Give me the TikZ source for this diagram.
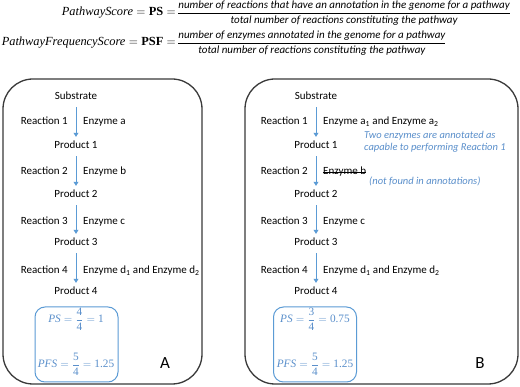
\documentclass[tikz,border=0pt]{standalone}
\usepackage[no-math]{fontspec}
\usepackage{amsmath}
\setmainfont{Carlito}
\newfontfamily\serif{Liberation Serif}
\usetikzlibrary{arrows.meta}
\definecolor{arrblue}{HTML}{5B9BD5}
\definecolor{txtblue}{HTML}{5A8FCB}
\definecolor{boxgray}{HTML}{3A3A3A}
\newcommand{\myfr}[2]{\dfrac{\text{#1}}{\text{#2}}}
\begin{document}
\begin{tikzpicture}[x=1pt,y=-1pt,
  lbl/.style={font=\fontsize{11}{13}\selectfont, inner sep=0pt, text height=8pt, text depth=2pt},
  arr/.style={draw=arrblue, line width=0.8pt, -{Triangle[width=5pt,length=4pt]}, shorten <=5pt, shorten >=4pt},
  outer/.style={draw=boxgray, line width=1.3pt, rounded corners=30pt},
  inner/.style={draw=arrblue, line width=1pt, rounded corners=10pt, minimum width=83pt, minimum height=75pt, inner sep=0pt},
  note/.style={font=\fontsize{10.5}{12}\selectfont\itshape, text=txtblue, inner sep=0pt, align=left},
  frm/.style={font=\fontsize{11.3}{14}\selectfont\serif, text=txtblue, inner sep=0pt},
  letter/.style={font=\fontsize{17}{20}\selectfont, inner sep=0pt}
]
\useasboundingbox[fill=white] (0,0) rectangle (520,387);

% top formulas
\node[inner sep=0pt, anchor=east, font=\fontsize{12.4}{14}\selectfont\serif] (ps) at (176,13) {$\text{\itshape PathwayScore} = \text{\bfseries PS} =$};
\node[inner sep=0pt, anchor=west, font=\fontsize{11}{13}\selectfont\itshape] (psf) at (177,13) {$\myfr{number of reactions that have an annotation in the genome for a pathway}{total number of reactions constituting the pathway}$};
\node[inner sep=0pt, anchor=east, font=\fontsize{12.4}{14}\selectfont\serif] (pfs) at (176,43) {$\text{\itshape PathwayFrequencyScore} = \text{\bfseries PSF} =$};
\node[inner sep=0pt, anchor=west, font=\fontsize{11}{13}\selectfont\itshape] (pfsf) at (177,43) {$\myfr{number of enzymes annotated in the genome for a pathway}{total number of reactions constituting the pathway}$};

% outer boxes
\draw[outer] (3,79) rectangle (202,384);
\draw[outer] (245,79) rectangle (518,384);

% ---- panel A
\node[lbl] (sA) at (76,97) {Substrate};
\node[lbl] (p1A) at (76,146) {Product 1};
\node[lbl] (p2A) at (76,195) {Product 2};
\node[lbl] (p3A) at (76,243) {Product 3};
\node[lbl] (p4A) at (76,292) {Product 4};
\draw[arr] (sA) -- (p1A);
\draw[arr] (p1A) -- (p2A);
\draw[arr] (p2A) -- (p3A);
\draw[arr] (p3A) -- (p4A);
\node[lbl, anchor=east] (r1A) at (68,122) {Reaction 1};
\node[lbl, anchor=east] (r2A) at (68,172) {Reaction 2};
\node[lbl, anchor=east] (r3A) at (68,222) {Reaction 3};
\node[lbl, anchor=east] (r4A) at (68,271) {Reaction 4};
\node[lbl, anchor=west] (e1A) at (83,122) {Enzyme a};
\node[lbl, anchor=west] (e2A) at (83,172) {Enzyme b};
\node[lbl, anchor=west] (e3A) at (83,222) {Enzyme c};
\node[lbl, anchor=west] (e4A) at (83,271) {Enzyme d\textsubscript{1} and Enzyme d\textsubscript{2}};
\node[inner] (bA) at (76.5,344.5) {};
\node[frm] (psA) at (76,319) {$\text{\itshape PS} = \myfr{4}{4} = \text{1}$};
\node[frm] (pfsA) at (76,364) {$\text{\itshape PFS} = \myfr{5}{4} = \text{1.25}$};
\node[letter] (A) at (165,363) {A};

% ---- panel B
\node[lbl] (sB) at (316,97) {Substrate};
\node[lbl] (p1B) at (316,146) {Product 1};
\node[lbl] (p2B) at (316,195) {Product 2};
\node[lbl] (p3B) at (316,243) {Product 3};
\node[lbl] (p4B) at (316,292) {Product 4};
\draw[arr] (sB) -- (p1B);
\draw[arr] (p1B) -- (p2B);
\draw[arr] (p2B) -- (p3B);
\draw[arr] (p3B) -- (p4B);
\node[lbl, anchor=east] (r1B) at (308,122) {Reaction 1};
\node[lbl, anchor=east] (r2B) at (308,172) {Reaction 2};
\node[lbl, anchor=east] (r3B) at (308,222) {Reaction 3};
\node[lbl, anchor=east] (r4B) at (308,271) {Reaction 4};
\node[lbl, anchor=west] (e1B) at (323,122) {Enzyme a\textsubscript{1} and Enzyme a\textsubscript{2}};
\node[lbl, anchor=west] (e2B) at (323,172) {Enzyme b};
\draw[line width=0.6pt] ([yshift=-0.5pt]e2B.west) -- ([yshift=-0.5pt]e2B.east);
\node[lbl, anchor=west] (e3B) at (323,222) {Enzyme c};
\node[lbl, anchor=west] (e4B) at (323,271) {Enzyme d\textsubscript{1} and Enzyme d\textsubscript{2}};
\node[note, anchor=west] (n1B) at (364,142) {Two enzymes are annotated as\\capable to performing Reaction 1};
\node[note, anchor=west] (n2B) at (369,181) {(not found in annotations)};
\node[inner] (bB) at (315,344.5) {};
\node[frm] (psB) at (315,319) {$\text{\itshape PS} = \myfr{3}{4} = \text{0.75}$};
\node[frm] (pfsB) at (315,364) {$\text{\itshape PFS} = \myfr{5}{4} = \text{1.25}$};
\node[letter] (B) at (480,363) {B};
\end{tikzpicture}
\end{document}
